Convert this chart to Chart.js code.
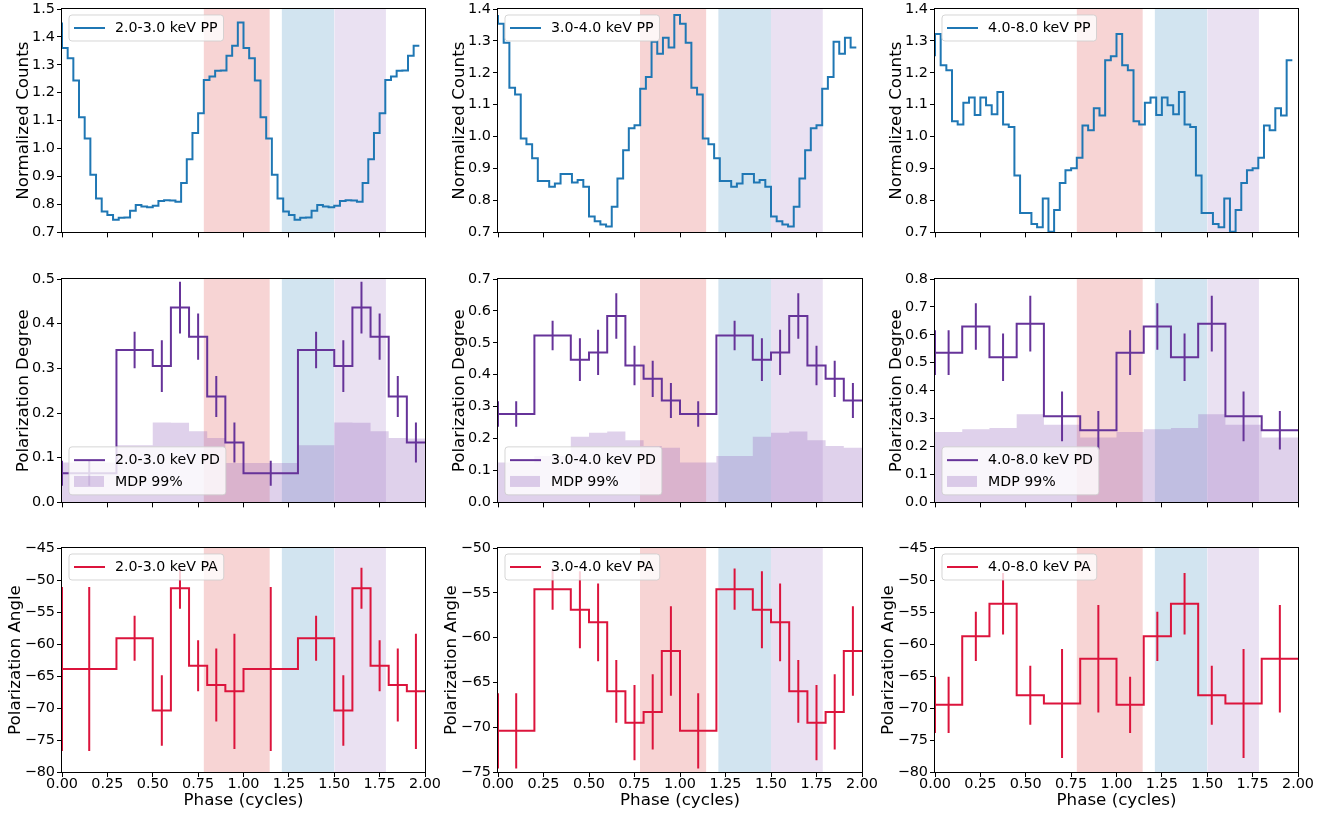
<!DOCTYPE html>
<html>
<head>
<meta charset="utf-8">
<script src="https://cdn.jsdelivr.net/npm/chart.js@4.4.1/dist/chart.umd.min.js"></script>
<style>
  html, body { margin: 0; padding: 0; background: #ffffff; }
  body { width: 1344px; height: 814px; position: relative; overflow: hidden; }
  canvas { position: absolute; }
</style>
</head>
<body>
<script>
// ---------------- DATA ----------------
const energyLabels = ['2.0-3.0 keV', '3.0-4.0 keV', '4.0-8.0 keV'];
const phaseTicks = [0, 0.25, 0.5, 0.75, 1.0, 1.25, 1.5, 1.75, 2.0];

// Pulse profiles: 32 bins per cycle (one cycle listed, plotted for two cycles)
const ppA = [1.360,1.324,1.244,1.112,1.036,0.906,0.821,0.775,0.762,0.745,0.752,0.753,0.777,0.798,0.793,0.790,
             0.795,0.812,0.815,0.814,0.810,0.877,0.962,1.056,1.127,1.246,1.258,1.279,1.280,1.333,1.368,1.452];
const ppB = [1.354,1.294,1.153,1.132,0.994,0.976,0.932,0.861,0.861,0.843,0.853,0.883,0.883,0.856,0.864,0.843,
             0.750,0.735,0.725,0.718,0.780,0.869,0.957,1.026,1.036,1.150,1.187,1.297,1.260,1.310,1.279,1.381];
const ppC = [1.322,1.224,1.208,1.048,1.038,1.106,1.123,1.068,1.123,1.098,1.070,1.140,1.038,1.030,0.878,0.761,
             0.761,0.726,0.716,0.806,0.702,0.770,0.855,0.895,0.901,0.934,1.035,1.020,1.089,1.066,1.239,1.252];

// 2.0-3.0 keV phase bins
const edgesA  = [0, 0.3, 0.5, 0.6, 0.7, 0.8, 0.9, 1.0];
const pdA     = [0.065, 0.341, 0.305, 0.436, 0.371, 0.237, 0.134];
const pdErrA  = [0.028, 0.041, 0.058, 0.058, 0.052, 0.046, 0.045];
const mdpA    = [0.089, 0.128, 0.179, 0.178, 0.159, 0.144, 0.088,
                 0.088, 0.128, 0.179, 0.178, 0.159, 0.144, 0.143];
const paA     = [-63.9, -59.1, -70.4, -51.3, -63.4, -66.4, -67.4];
const paErrA  = [12.8, 3.5, 5.5, 3.2, 4.0, 5.7, 9.0];

// 3.0-4.0 keV phase bins
const edgesB  = [0, 0.2, 0.4, 0.5, 0.6, 0.7, 0.8, 0.9, 1.0];
const pdB     = [0.277, 0.523, 0.447, 0.470, 0.584, 0.429, 0.387, 0.319];
const pdErrB  = [0.040, 0.046, 0.067, 0.071, 0.071, 0.062, 0.057, 0.055];
const mdpB    = [0.125, 0.145, 0.206, 0.218, 0.222, 0.195, 0.177, 0.171];
const paB     = [-70.4, -54.6, -56.9, -58.3, -66.0, -69.5, -68.3, -61.5];
const paErrB  = [4.2, 2.3, 4.3, 4.35, 3.5, 4.2, 4.2, 5.0];

// 4.0-8.0 keV phase bins
const edgesC  = [0, 0.15, 0.3, 0.45, 0.6, 0.8, 1.0];
const pdC     = [0.536, 0.630, 0.520, 0.640, 0.308, 0.258];
const pdErrC  = [0.080, 0.083, 0.085, 0.100, 0.089, 0.069];
const mdpC    = [0.252, 0.262, 0.266, 0.316, 0.278, 0.232];
const paC     = [-69.5, -58.8, -53.7, -68.0, -69.3, -62.3];
const paErrC  = [4.4, 3.85, 4.8, 4.6, 8.5, 8.4];

// highlighted phase intervals
const redBand    = [0.78, 1.145];
const blueBand   = [1.21, 1.5];
const purpleBand = [1.5, 1.785];

// y tick labels
const ppTicks = [[0.7,0.8,0.9,1.0,1.1,1.2,1.3,1.4,1.5],[0.7,0.8,0.9,1.0,1.1,1.2,1.3,1.4],[0.7,0.8,0.9,1.0,1.1,1.2,1.3,1.4]];
const pdTicks = [[0,0.1,0.2,0.3,0.4,0.5],[0,0.1,0.2,0.3,0.4,0.5,0.6,0.7],[0,0.1,0.2,0.3,0.4,0.5,0.6,0.7,0.8]];
const paTicks = [[-80,-75,-70,-65,-60,-55,-50,-45],[-75,-70,-65,-60,-55,-50],[-80,-75,-70,-65,-60,-55,-50,-45]];

// ---------------- STYLE ----------------
const FONT = 'DejaVu Sans';
const TICK_SIZE = 14.4, LEGEND_SIZE = 14.2, TITLE_SIZE = 16.7;
const ppColor = '#1f77b4', pdColor = '#663399', paColor = '#dc143c';
const mdpColor = 'rgba(148,103,189,0.3)';
const redColor = 'rgba(214,39,40,0.2)', blueColor = 'rgba(31,119,180,0.2)', purpleColor = 'rgba(148,103,189,0.2)';
const colLeft = [62, 498, 935], plotW = [363, 364, 363];
const rowTop = [9, 279, 548], plotH = 224;

Chart.defaults.font.family = FONT;
Chart.defaults.color = '#000';

// ---------------- HELPERS ----------------
function stepPoints(edges, vals) {
  const n = edges.length - 1, pts = [];
  for (let c = 0; c < 2; c++) for (let i = 0; i < n; i++) {
    const v = vals.length === 2 * n ? vals[c * n + i] : vals[i];
    pts.push({x: edges[i] + c, y: v});
  }
  pts.push({x: 2, y: pts[pts.length - 1].y});
  return pts;
}
function errPoints(edges, vals, errs) {
  const n = edges.length - 1, pts = [];
  const add = (x, v, e) => pts.push({x, y: v - e}, {x, y: v + e}, {x, y: null});
  add(edges[0], vals[0], errs[0]);
  for (let c = 0; c < 2; c++) for (let i = 0; i < n; i++)
    add((edges[i] + edges[i + 1]) / 2 + c, vals[i], errs[i]);
  return pts;
}
function ppPoints(cyc) {
  const n = cyc.length, pts = [{x: 0, y: cyc[n - 1]}];
  for (let k = 1; k < 2 * n; k++) pts.push({x: k / n, y: cyc[(k - 1) % n]});
  return pts;
}
function bandSet(range, color, yTop) {
  return {type: 'line', data: [{x: range[0], y: yTop}, {x: range[1], y: yTop}],
    borderWidth: 0, borderColor: 'transparent', pointRadius: 0, fill: 'start',
    backgroundColor: color, order: 10};
}

const boxLegend = {
  id: 'boxLegend',
  afterDraw(chart, args, opts) {
    const ctx = chart.ctx, a = chart.chartArea;
    ctx.save();
    // spines
    ctx.strokeStyle = '#000'; ctx.lineWidth = 1;
    ctx.strokeRect(Math.round(a.left) - 0.5, Math.round(a.top) - 0.5,
                   Math.round(a.right - a.left) + 1, Math.round(a.bottom - a.top) + 1);
    // legend
    const items = opts.items;
    ctx.font = LEGEND_SIZE + 'px "' + FONT + '"';
    const tw = Math.max(...items.map(it => ctx.measureText(it.text).width));
    const w = 46 + tw + 6, h = items.length === 1 ? 26 : 48;
    const x0 = a.left + 7, y0 = opts.where === 'lower' ? a.bottom - 7.5 - h : a.top + 6;
    const r = 3;
    ctx.beginPath();
    ctx.moveTo(x0 + r, y0);
    ctx.lineTo(x0 + w - r, y0); ctx.arcTo(x0 + w, y0, x0 + w, y0 + r, r);
    ctx.lineTo(x0 + w, y0 + h - r); ctx.arcTo(x0 + w, y0 + h, x0 + w - r, y0 + h, r);
    ctx.lineTo(x0 + r, y0 + h); ctx.arcTo(x0, y0 + h, x0, y0 + h - r, r);
    ctx.lineTo(x0, y0 + r); ctx.arcTo(x0, y0, x0 + r, y0, r);
    ctx.closePath();
    ctx.fillStyle = 'rgba(255,255,255,0.8)'; ctx.fill();
    ctx.strokeStyle = 'rgba(204,204,204,0.8)'; ctx.lineWidth = 1; ctx.stroke();
    items.forEach((it, i) => {
      const cy = y0 + (items.length === 1 ? 13 : (i === 0 ? 13.3 : 34.6));
      if (it.kind === 'line') {
        ctx.strokeStyle = it.color; ctx.lineWidth = 2;
        ctx.beginPath(); ctx.moveTo(x0 + 5, cy); ctx.lineTo(x0 + 36, cy); ctx.stroke();
      } else {
        ctx.fillStyle = it.color; ctx.fillRect(x0 + 5, cy - 5.5, 30, 11);
      }
      ctx.fillStyle = '#000'; ctx.textBaseline = 'middle'; ctx.textAlign = 'left';
      ctx.fillText(it.text, x0 + 46, cy + 0.5);
    });
    ctx.restore();
  }
};

const fmtY = v => (v < 0 ? '\u2212' : '') + Math.abs(v).toFixed(Number.isInteger(v) && Math.abs(v) >= 10 ? 0 : 1);

function makePanel(r, c, datasets, yTicks, yTitle, legendItems, where) {
  const bottom = r === 2;
  const xH = bottom ? 40 : 8;
  const cv = document.createElement('canvas');
  cv.width = 62 + plotW[c] + 30;
  cv.height = 12 + plotH + xH + 2;
  cv.style.left = (colLeft[c] - 62) + 'px';
  cv.style.top = (rowTop[r] - 12) + 'px';
  document.body.appendChild(cv);
  const gridOpts = {drawOnChartArea: false, drawTicks: true, tickLength: 5, color: '#000', tickColor: '#000', lineWidth: 1, tickWidth: 1};
  new Chart(cv, {
    type: 'line',
    data: {datasets},
    options: {
      responsive: false, animation: false, events: [],
      layout: {padding: {left: 0, top: 12, right: 30, bottom: 2}, autoPadding: false},
      plugins: {legend: {display: false}, tooltip: {enabled: false}, boxLegend: {items: legendItems, where}},
      scales: {
        x: {
          type: 'linear', min: 0, max: 2,
          afterBuildTicks: s => { s.ticks = phaseTicks.map(v => ({value: v})); },
          afterFit: s => { s.height = xH; },
          ticks: {display: bottom, callback: v => v.toFixed(2), font: {size: TICK_SIZE, lineHeight: 1}, color: '#000', padding: 0.5, maxRotation: 0, autoSkip: false},
          grid: gridOpts, border: {display: false},
          title: {display: bottom, text: 'Phase (cycles)', font: {size: TITLE_SIZE, lineHeight: 1.2}, color: '#000', padding: {top: 0, bottom: 1}}
        },
        y: {
          type: 'linear', min: yTicks[0], max: yTicks[yTicks.length - 1],
          afterBuildTicks: s => { s.ticks = yTicks.map(v => ({value: v})); },
          afterFit: s => { s.width = 62; },
          ticks: {callback: fmtY, font: {size: TICK_SIZE}, color: '#000', padding: 2, autoSkip: false},
          grid: gridOpts, border: {display: false},
          title: {display: true, text: yTitle, font: {size: TITLE_SIZE, lineHeight: 1.2}, color: '#000', padding: {top: bottom ? 5.5 : 13.3, bottom: 0}}
        }
      }
    },
    plugins: [boxLegend]
  });
}

function bands(yTop) {
  return [bandSet(redBand, redColor, yTop), bandSet(blueBand, blueColor, yTop), bandSet(purpleBand, purpleColor, yTop)];
}

const ppSets = [ppA, ppB, ppC];
const edgeSets = [edgesA, edgesB, edgesC];
const pdSets = [pdA, pdB, pdC], pdErrSets = [pdErrA, pdErrB, pdErrC], mdpSets = [mdpA, mdpB, mdpC];
const paSets = [paA, paB, paC], paErrSets = [paErrA, paErrB, paErrC];

for (let c = 0; c < 3; c++) {
  const e = energyLabels[c];
  // Row 1: pulse profile
  makePanel(0, c, [
    {data: ppPoints(ppSets[c]), stepped: 'after', borderColor: ppColor, borderWidth: 2, pointRadius: 0, fill: false, order: 1},
    ...bands(ppTicks[c][ppTicks[c].length - 1])
  ], ppTicks[c], 'Normalized Counts', [{kind: 'line', color: ppColor, text: e + ' PP'}], 'upper');

  // Row 2: polarization degree
  makePanel(1, c, [
    {data: errPoints(edgeSets[c], pdSets[c], pdErrSets[c]), borderColor: pdColor, borderWidth: 2, pointRadius: 0, fill: false, spanGaps: false, order: 0},
    {data: stepPoints(edgeSets[c], pdSets[c]), stepped: 'before', borderColor: pdColor, borderWidth: 2, pointRadius: 0, fill: false, order: 1},
    {data: stepPoints(edgeSets[c], mdpSets[c]), stepped: 'before', borderColor: 'transparent', borderWidth: 0, pointRadius: 0, fill: 'origin', backgroundColor: mdpColor, order: 5},
    ...bands(pdTicks[c][pdTicks[c].length - 1])
  ], pdTicks[c], 'Polarization Degree', [{kind: 'line', color: pdColor, text: e + ' PD'}, {kind: 'patch', color: mdpColor, text: 'MDP 99%'}], 'lower');

  // Row 3: polarization angle
  makePanel(2, c, [
    {data: errPoints(edgeSets[c], paSets[c], paErrSets[c]), borderColor: paColor, borderWidth: 2, pointRadius: 0, fill: false, spanGaps: false, order: 0},
    {data: stepPoints(edgeSets[c], paSets[c]), stepped: 'before', borderColor: paColor, borderWidth: 2, pointRadius: 0, fill: false, order: 1},
    ...bands(paTicks[c][paTicks[c].length - 1])
  ], paTicks[c], 'Polarization Angle', [{kind: 'line', color: paColor, text: e + ' PA'}], 'upper');
}
</script>
</body>
</html>
